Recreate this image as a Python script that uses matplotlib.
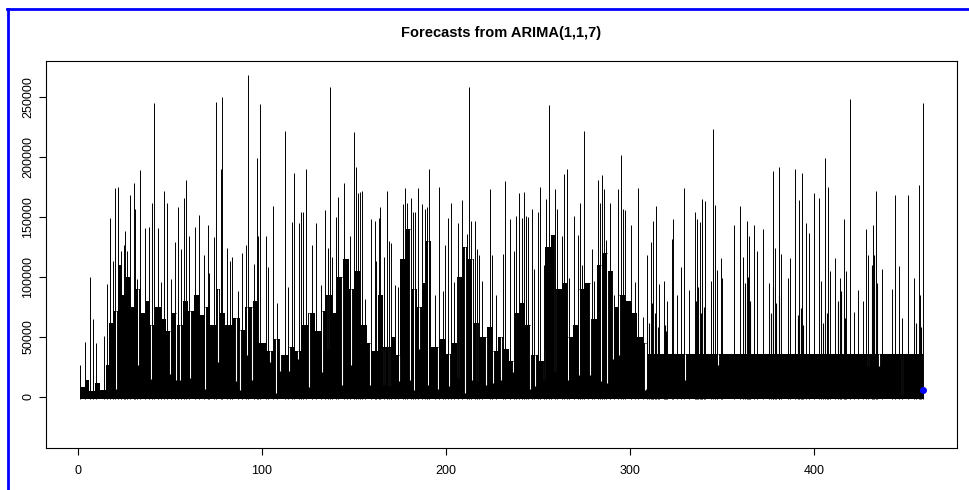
import numpy as np
import matplotlib.pyplot as plt
from matplotlib.lines import Line2D

plt.rcParams['font.family'] = ['Liberation Sans', 'DejaVu Sans']

# ---- spikes (time index, value in thousands) ----
peak_x = [1.3, 3.6, 6.7, 8.2, 9.8, 14.0, 15.8, 17.2, 19.2, 20.3, 21.8, 23.5, 24.8, 25.7,
          26.6, 28.4, 30.3, 30.8, 32.1, 33.5, 36.6, 38.4, 40.2, 41.5, 43.5, 45.3, 46.6,
          48.6, 50.5, 52.6, 54.2, 55.7, 57.4, 58.7, 60.5, 63.8, 65.6, 68.3, 70.5, 71.4,
          73.7, 75.0,
          77.7, 78.4, 80.8, 82.6, 83.9, 86.8, 89.3, 91.3, 92.6, 95.4, 97.1, 98.0, 99.1,
          102.2, 103.5, 106.2, 108.2, 112.5, 114.3, 116.5, 117.6, 120.1, 121.2, 122.5,
          124.1, 127.0, 129.2, 132.0, 134.2, 135.7, 136.8, 137.9, 140.0, 141.5, 144.4,
          146.0, 147.8, 149.8, 150.9, 152.0, 153.1,
          154.3, 156.2, 159.4, 161.2, 162.1, 163.6, 164.0, 166.1, 167.8, 168.8, 170.3,
          172.1, 173.9, 176.4, 177.5, 179.0, 180.8, 182.0, 183.3, 184.6, 186.9, 188.4,
          189.9, 190.8, 194.2, 196.3, 198.6, 199.6, 201.3, 202.5, 204.3, 206.5, 208.9,
          211.3, 212.7, 213.8, 215.6, 217.1, 218.1, 219.6, 223.7, 225.2, 227.3, 230.8,
          232.1, 234.9, 237.1, 238.0, 239.6, 241.1, 242.2, 243.3, 244.7, 246.6, 248.0,
          250.2, 251.2, 253.1, 254.3, 255.8, 257.0, 259.2, 260.3, 263.0, 264.3, 265.6,
          267.0, 269.4, 271.5, 273.0, 274.1, 275.2, 277.3, 279.2, 280.6, 282.4, 283.5,
          284.8, 286.1, 287.2, 289.0, 291.5, 293.6, 295.1, 296.2, 297.3, 300.5, 302.7,
          304.2, 306.9,
          309.0, 311.2, 312.7, 314.1, 315.6, 318.4, 320.3, 322.8, 323.6, 325.7, 327.9,
          329.2, 332.0, 335.5, 336.6, 337.9, 339.3, 341.0, 343.8, 345.3, 346.2, 347.1,
          349.5, 350.0, 356.5, 359.8, 361.2, 363.4, 364.9, 367.4, 369.2, 372.3, 375.7,
          377.5, 378.9, 380.8, 381.9, 385.9,
          387.1, 389.7, 392.0, 393.5, 395.8, 397.3, 399.8, 402.5, 403.8, 406.2, 407.8,
          408.7, 411.6, 414.3, 416.1, 417.6, 419.4, 421.9, 423.9, 426.6, 428.2, 429.5,
          432.0, 433.5, 436.9, 442.2, 443.8, 446.0, 447.8, 450.8, 454.2, 456.9, 457.8,
          459.1]
peak_k = [27, 46, 100, 65, 45, 51, 94, 149, 113, 174, 175, 122, 127, 138,
          122, 168, 178, 157, 98, 189, 141, 142, 162, 245, 141, 96, 172,
          162, 98, 129, 158, 123, 166, 181, 134, 142, 152, 118, 143, 103,
          133, 246,
          190, 250, 124, 113, 117, 88, 120, 127, 268, 111, 199, 134, 244,
          134, 108, 159, 78, 222, 92, 146, 187, 145, 154, 154,
          190, 127, 145, 93, 156, 124, 258, 117, 150, 167, 178,
          110, 134, 221, 192, 170, 171,
          172, 82, 148, 147, 113, 149, 158, 117, 172, 130, 128,
          93, 92, 161, 174, 162, 166, 154, 154, 174, 161, 157,
          158, 190, 85, 175, 88, 127, 149, 162, 96, 145, 164,
          136, 258, 147, 147, 123, 118, 97, 173, 118, 85, 119,
          180, 148, 122, 151, 170, 149, 171, 151, 150, 157, 107,
          154, 175, 110, 165, 243, 135, 173, 157, 134, 186, 190,
          99, 151, 135, 162, 110, 222, 88, 123, 97, 181, 162,
          185, 173, 131, 162, 85, 173, 202, 157, 156, 143, 96,
          174, 67,
          118, 129, 147, 159, 94, 97, 80, 132, 148, 85, 108,
          174, 89, 154, 148, 146, 165, 163, 97, 223, 160, 106,
          116, 99, 143, 159, 117, 147, 134, 143, 122, 140, 95,
          188, 124, 192, 119, 99,
          116, 190, 164, 187, 145, 137, 170, 166, 97, 199, 175,
          105, 116, 99, 148, 105, 248, 71, 89, 80, 140, 118,
          143, 172, 107, 90, 168, 109, 66, 168, 99, 177, 85,
          245]

# ---- mid-height lines above the flat band (time index, value in thousands) ----
mid_x = [310.5, 312.0, 313.4, 315.0, 318.9, 319.6, 336.0, 337.2, 338.6, 340.2,
         362.5, 363.9, 365.4, 376.4, 377.9, 379.6, 381.2, 391.2, 392.7, 394.1,
         405.0, 407.0, 412.8, 414.9, 416.6, 431.4, 432.7, 434.2, 455.6, 458.2]
mid_k = [62, 78, 70, 58, 60, 55, 80, 92, 70, 75,
         95, 100, 80, 70, 92, 78, 85, 68, 74, 60,
         62, 70, 80, 88, 66, 110, 118, 95, 62, 58]

# ---- top of the dense black body (segment start, value in thousands) ----
body_x = [1, 4, 6, 9, 12, 15, 17, 19, 22, 24, 26, 28, 31, 34, 37, 39, 42, 45, 48, 51,
          54, 57, 60, 63, 66, 69, 72, 75, 77, 80, 84, 88, 91, 95, 98, 102, 106, 110,
          114, 118, 121, 125, 129, 132, 135, 138, 141, 144, 147, 150, 153, 157, 160,
          163, 166, 170, 173, 175, 178, 181, 184, 187, 189, 192, 196, 200, 203, 206,
          209, 212, 215, 218, 222, 225, 228, 231, 234, 237, 240, 243, 246, 250, 253,
          254, 257, 260, 263, 266, 269, 272, 275, 279, 282, 285, 288, 291, 294, 297,
          301, 304, 307, 310, 459.3]
body_k = [8, 14, 5, 12, 6, 27, 62, 72, 110, 85, 100, 75, 90, 70, 80, 60, 75, 65, 55, 70,
          60, 80, 72, 85, 68, 75, 60, 90, 70, 60, 66, 56, 75, 80, 45, 38, 48, 35,
          42, 38, 60, 70, 55, 72, 85, 70, 100, 115, 90, 105, 60, 45, 38,
          85, 42, 50, 35, 115, 140, 90, 75, 95, 130, 42, 48, 36, 45, 100,
          125, 115, 62, 50, 58, 38, 50, 40, 30, 70, 78, 60, 35, 30, 40,
          125, 135, 90, 95, 50, 60, 90, 95, 65, 110, 120, 105, 75, 85, 80,
          70, 50, 45, 36, 36]
body_floor = -1.5

# ---- white gaps cutting into the body (time index, bottom in thousands) ----
gap_x = [20.8, 32.4, 39.7, 50.2, 53.3, 55.6, 61.1, 69.2,
         76.3, 85.7, 88.2, 91.7, 94.4, 104.4, 107.6, 109.8, 114.7, 119.4, 125.7,
         132.8, 136.1, 143.3, 148.4,
         158.5, 166.3, 169.0, 174.5, 180.3, 182.6, 185.2, 190.2, 195.7, 201.5,
         206.5, 210.1, 214.2, 216.9, 221.5, 225.5, 230.1,
         236.2, 245.5, 248.4, 253.1, 259.2, 266.5, 272.0, 278.4, 284.2, 287.6,
         290.6, 294.2, 308.2, 308.5, 329.7, 347.8, 429.2, 435.2, 448.0]
gap_k = [7, 27, 15, 19, 14, 14, 16, 7,
         29, 13, 6, 35, 14, 29, 3, 22, 22, 32, 8,
         21, 40, 10, 27,
         10, 10, 9, 13, 14, 6, 40, 10, 7, 9,
         16, 3, 14, 13, 10, 12, 14,
         21, 7, 9, 14, 21, 14, 18, 18, 13, 12,
         32, 35, 6, 7, 14, 27, 26, 26, 2]

# ---- one-step forecast ----
fc_x = [459.4]
fc_k = [6]

fig = plt.figure(figsize=(9.69, 4.90), dpi=100)
ax = fig.add_axes([46 / 969, 1 - 448 / 490, (957 - 46) / 969, (448 - 61) / 490])

bx = np.array(body_x)
bk = np.array(body_k) * 1000
ax.fill_between(bx, body_floor * 1000, bk, step='post', color='black', lw=0)

# gaps reach up to the body top at their position
gap_top = bk[np.searchsorted(bx, gap_x, side='right') - 1]
ax.vlines(gap_x, np.array(gap_k) * 1000, gap_top, color='white', lw=0.8)

ax.vlines(mid_x, body_floor * 1000, np.array(mid_k) * 1000, color='black', lw=0.8)
ax.vlines(peak_x, body_floor * 1000, np.array(peak_k) * 1000, color='black', lw=0.7)
ax.plot(fc_x, np.array(fc_k) * 1000, 'o', color='blue', ms=4, mec='blue')

ax.set_xlim(-17.4, 477.7)
ax.set_ylim(-42500, 280000)
ax.set_xticks([0, 100, 200, 300, 400])
ax.set_yticks([0, 50000, 100000, 150000, 200000, 250000])
ax.set_yticklabels(['0', '50000', '100000', '150000', '200000', '250000'],
                   rotation=90, va='center')
ax.tick_params(direction='out', length=5, width=0.8, labelsize=9)
ax.tick_params(axis='x', pad=7)
for s in ax.spines.values():
    s.set_linewidth(0.8)
ax.set_title('Forecasts from ARIMA(1,1,7)', fontsize=10.5, fontweight='bold', pad=17)

# blue frame of the screenshot
fig.add_artist(Line2D([7.5 / 969, 7.5 / 969], [0, 1 - 9 / 490], color='blue', lw=2))
fig.add_artist(Line2D([6.5 / 969, 1], [1 - 9 / 490, 1 - 9 / 490], color='blue', lw=2))

fig.savefig('out.png', dpi=100)
